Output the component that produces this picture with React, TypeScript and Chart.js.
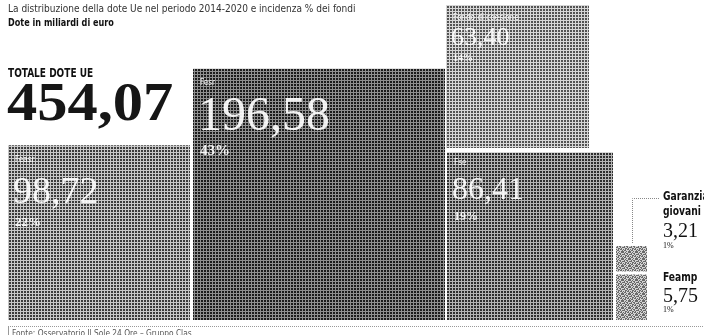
import React, { useEffect, useRef } from "react";
import { Chart, registerables } from "chart.js";

Chart.register(...registerables);

// ---------- DATA ----------
const funds = ["Feasr", "Fesr", "Fondo di coesione", "Fse", "Garanzia giovani", "Feamp"];
const valuesBn = [98.72, 196.58, 63.4, 86.41, 3.21, 5.75];
const sharesPct = [22, 43, 14, 19, 1, 1];
const totalBn = 454.07;
const titleText = "La distribuzione della dote Ue nel periodo 2014-2020 e incidenza % dei fondi";
const subtitleText = "Dote in miliardi di euro";
const totalLabel = "TOTALE DOTE UE";
const sourceText = "Fonte: Osservatorio Il Sole 24 Ore \u2013 Gruppo Clas";

// ---------- LAYOUT (treemap-like columns, layout units) ----------
const colLeft = [8, 193, 446, 447, 616, 616];
const colRight = [190, 445, 589, 613, 647, 647];
const stackOn = [-1, -1, 3, -1, 5, -1]; // box sits on top of box index (or baseline)
const smallGroup = [false, false, false, false, true, true];
const BASE = 320;
const AREA_K = 322; // area units per billion
const SMALL_H = 71; // height shared by the small column
const GAP_BIG = 4.5;
const GAP_SMALL = 3;

// styles for text inside big boxes
const labelDy = [17, 16, 15, 13];
const valueDy = [58, 61, 40, 47];
const valueSize = [38, 48, 26, 32];
const pctDy = [81, 86, 56, 68];
const pctSize = [13, 15, 10, 12];

const SANS = '"Liberation Sans Narrow", "DejaVu Sans Condensed", "Roboto Condensed", Roboto, sans-serif';
const SERIF = '"Liberation Serif", "DejaVu Serif", serif';

const fmt = (v: number) => v.toFixed(2).replace(".", ",");

function computeBoxes() {
  const smallTotal = valuesBn.reduce((s, v, i) => (smallGroup[i] ? s + v : s), 0);
  const boxes: { top: number; bottom: number }[] = [];
  const get = (i: number): { top: number; bottom: number } => {
    if (boxes[i]) return boxes[i];
    const w = colRight[i] - colLeft[i];
    const h = smallGroup[i] ? (SMALL_H * valuesBn[i]) / smallTotal : (valuesBn[i] * AREA_K) / w;
    let bottom = BASE;
    if (stackOn[i] >= 0) bottom = get(stackOn[i]).top - (smallGroup[i] ? GAP_SMALL : GAP_BIG);
    boxes[i] = { top: bottom - h, bottom };
    return boxes[i];
  };
  valuesBn.forEach((_, i) => get(i));
  return boxes;
}

function gridPattern(dot: string, line: string) {
  const c = document.createElement("canvas");
  c.width = 3;
  c.height = 3;
  const g = c.getContext("2d")!;
  g.fillStyle = line;
  g.fillRect(0, 0, 3, 3);
  g.fillStyle = dot;
  g.fillRect(0, 0, 2, 2);
  return g.createPattern(c, "repeat")!;
}

function noisePattern(a: string, b: string) {
  // deterministic fine halftone tile
  const mask = [
    "1010011",
    "0101100",
    "1100101",
    "0011010",
    "1010110",
    "0110001",
    "1001011",
  ];
  const c = document.createElement("canvas");
  c.width = 7;
  c.height = 7;
  const g = c.getContext("2d")!;
  g.fillStyle = b;
  g.fillRect(0, 0, 7, 7);
  g.fillStyle = a;
  mask.forEach((row, y) =>
    row.split("").forEach((ch, x) => {
      if (ch === "1") g.fillRect(x, y, 1, 1);
    })
  );
  return g.createPattern(c, "repeat")!;
}

function drawText(ctx: CanvasRenderingContext2D, text: string, x: number, y: number, font: string, sx = 1) {
  ctx.save();
  ctx.translate(x, y);
  ctx.scale(sx, 1);
  ctx.font = font;
  ctx.fillText(text, 0, 0);
  ctx.restore();
}

export default function App() {
  const ref = useRef<HTMLCanvasElement | null>(null);

  useEffect(() => {
    if (!ref.current) return;
    const boxes = computeBoxes();
    const fills = [
      gridPattern("#3c3c3c", "#c8c8c8"),
      gridPattern("#1c1c1c", "#909090"),
      gridPattern("#525252", "#d6d6d6"),
      gridPattern("#2e2e2e", "#b4b4b4"),
      noisePattern("#6a6a6a", "#d4d4d4"),
      noisePattern("#6a6a6a", "#d4d4d4"),
    ];

    const textPlugin = {
      id: "textPlugin",
      afterDatasetsDraw(chart: any) {
        const ctx: CanvasRenderingContext2D = chart.ctx;
        const xs = chart.scales.x;
        const ys = chart.scales.y;
        const px = (v: number) => xs.getPixelForValue(v);
        const py = (v: number) => ys.getPixelForValue(v);
        ctx.save();
        ctx.textBaseline = "alphabetic";
        ctx.textAlign = "left";

        // header
        ctx.fillStyle = "#333";
        drawText(ctx, titleText, 8, 12, `11px ${SANS}`, 0.91);
        ctx.fillStyle = "#111";
        drawText(ctx, subtitleText, 8, 26, `bold 11px ${SANS}`, 0.82);
        drawText(ctx, totalLabel, 8, 77, `bold 11.5px ${SANS}`, 0.87);
        ctx.fillStyle = "#161616";
        drawText(ctx, fmt(totalBn), 7, 120, `bold 54px ${SERIF}`, 1.12);

        // big boxes texts
        for (let i = 0; i < 4; i++) {
          const x = px(colLeft[i]) + 7;
          const t = py(boxes[i].top);
          ctx.fillStyle = "rgba(255,255,255,0.92)";
          drawText(ctx, funds[i], x, t + labelDy[i], `9px ${SANS}`, 0.9);
          drawText(ctx, fmt(valuesBn[i]), x - 2, t + valueDy[i], `${valueSize[i]}px ${SERIF}`);
          drawText(ctx, `${sharesPct[i]}%`, x, t + pctDy[i], `bold ${pctSize[i]}px ${SERIF}`);
        }

        // small column texts
        const tx = 663;
        const g = 4;
        const gTop = py(boxes[g].top);
        const gCx = (px(colLeft[g]) + px(colRight[g])) / 2;
        ctx.strokeStyle = "#888";
        ctx.lineWidth = 1;
        ctx.setLineDash([1, 1]);
        ctx.beginPath();
        ctx.moveTo(Math.round(gCx) + 0.5, gTop - 3);
        ctx.lineTo(Math.round(gCx) + 0.5, gTop - 47.5);
        ctx.lineTo(tx - 4, gTop - 47.5);
        ctx.stroke();
        ctx.setLineDash([]);
        const [w1, w2] = funds[g].split(" ");
        ctx.fillStyle = "#111";
        drawText(ctx, w1, tx, gTop - 46, `bold 12px ${SANS}`, 0.85);
        drawText(ctx, w2, tx, gTop - 31, `bold 12px ${SANS}`, 0.85);
        drawText(ctx, fmt(valuesBn[g]), tx, gTop - 9, `20px ${SERIF}`);
        drawText(ctx, `${sharesPct[g]}%`, tx, gTop + 2, `8px ${SERIF}`);

        const f = 5;
        const fTop = py(boxes[f].top);
        drawText(ctx, funds[f], tx, fTop + 7, `bold 12px ${SANS}`, 0.85);
        drawText(ctx, fmt(valuesBn[f]), tx, fTop + 28, `20px ${SERIF}`);
        drawText(ctx, `${sharesPct[f]}%`, tx, fTop + 38, `8px ${SERIF}`);

        // source
        ctx.strokeStyle = "#999";
        ctx.setLineDash([1, 1]);
        ctx.beginPath();
        ctx.moveTo(8, 326.5);
        ctx.lineTo(704, 326.5);
        ctx.stroke();
        ctx.setLineDash([]);
        ctx.beginPath();
        ctx.moveTo(8.5, 326);
        ctx.lineTo(8.5, 335);
        ctx.stroke();
        ctx.fillStyle = "#555";
        drawText(ctx, sourceText, 12, 336, `9px ${SANS}`, 0.92);
        ctx.restore();
      },
    };

    const chart = new Chart(ref.current, {
      type: "line",
      data: {
        datasets: funds.map((name, i) => ({
          label: name,
          data: [
            { x: colLeft[i], y: boxes[i].top },
            { x: colRight[i], y: boxes[i].top },
          ],
          fill: { value: boxes[i].bottom },
          backgroundColor: fills[i],
          borderWidth: 0,
          pointRadius: 0,
          tension: 0,
        })),
      },
      options: {
        animation: false,
        responsive: false,
        devicePixelRatio: 1,
        layout: { padding: 0 },
        scales: {
          x: { type: "linear", min: 0, max: 704, display: false },
          y: { type: "linear", min: 0, max: 335, reverse: true, display: false },
        },
        plugins: { legend: { display: false }, tooltip: { enabled: false } },
      },
      plugins: [textPlugin],
    } as any);
    return () => chart.destroy();
  }, []);

  return (
    <div style={{ position: "absolute", left: 0, top: 0, width: 704, height: 335, background: "#fff" }}>
      <canvas ref={ref} width={704} height={335} style={{ display: "block", width: 704, height: 335 }} />
    </div>
  );
}
